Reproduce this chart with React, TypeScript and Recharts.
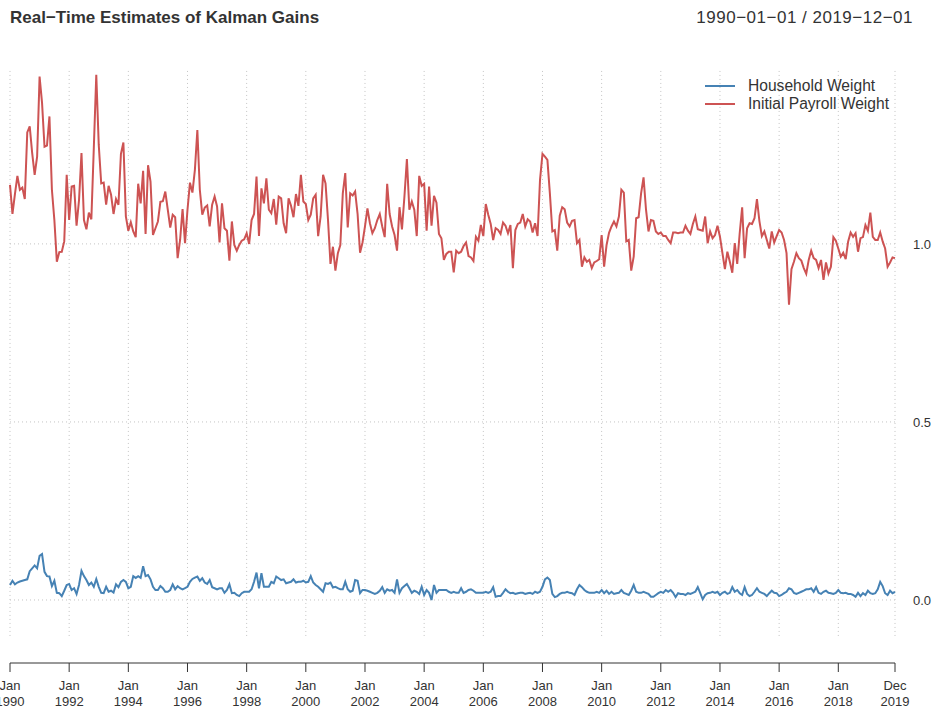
import { Line, LineChart, ReferenceLine, XAxis, YAxis } from "recharts";

// monthly Kalman gain estimates, Jan 1990 .. Dec 2019
const payroll1990s = [
  1.166, 1.084, 1.14, 1.191, 1.152, 1.158, 1.126, 1.313, 1.33, 1.255, 1.194, 1.245,
  1.47, 1.396, 1.273, 1.276, 1.358, 1.152, 1.067, 0.95, 0.977, 0.978, 1.007, 1.194,
  1.067, 1.161, 1.163, 1.051, 1.123, 1.255, 1.067, 1.041, 1.088, 1.069, 1.27, 1.475,
  1.278, 1.17, 1.172, 1.11, 1.163, 1.138, 1.084, 1.126, 1.11, 1.253, 1.285, 1.077,
  1.037, 1.061, 1.035, 1.019, 1.169, 1.114, 1.205, 1.028, 1.221, 1.175, 1.025, 1.044,
  1.063, 1.118, 1.12, 1.147, 1.096, 1.046, 1.082, 1.075, 0.96, 1.011, 1.098, 1.002,
  1.096, 1.172, 1.144, 1.208, 1.32, 1.152, 1.082, 1.102, 1.108, 1.049, 1.11, 1.133,
  1.105, 1.004, 1.114, 1.044, 1.037, 0.953, 1.063, 0.997, 0.981, 0.997, 1.009, 1.013,
  1.03, 1.0, 1.067, 1.084, 1.189, 1.022, 1.156, 1.114, 1.184, 1.096, 1.086, 1.126,
  1.054, 1.133, 1.128, 1.058, 1.03, 1.128, 1.107, 1.075, 1.14, 1.107, 1.194, 1.119,
];
const payroll2000s = [
  1.112, 1.067, 1.082, 1.128, 1.138, 1.022, 1.077, 1.194, 1.17, 1.067, 0.944, 0.992,
  0.925, 0.974, 0.997, 1.142, 1.199, 1.046, 1.142, 1.136, 1.147, 1.084, 0.975, 1.004,
  1.049, 1.1, 1.058, 1.03, 1.044, 1.067, 1.084, 1.049, 1.019, 1.169, 1.084, 1.049,
  1.025, 0.981, 1.103, 1.041, 1.133, 1.238, 1.096, 1.119, 1.096, 1.022, 1.191, 1.163,
  1.169, 1.037, 1.161, 1.051, 1.135, 1.116, 1.028, 1.016, 0.955, 0.972, 0.978, 0.978,
  0.92, 0.981, 0.974, 0.978, 0.994, 1.004, 0.966, 0.962, 0.952, 1.02, 1.009, 1.053,
  1.022, 1.112, 1.082, 1.056, 1.011, 1.044, 1.039, 1.028, 1.06, 1.051, 1.03, 1.053,
  0.932, 1.039, 1.056, 1.06, 1.084, 1.049, 1.069, 1.063, 1.032, 1.058, 1.022, 1.18,
  1.253, 1.245, 1.236, 1.142, 1.035, 1.039, 0.981, 1.079, 1.103, 1.097, 1.06, 1.049,
  1.065, 1.067, 1.002, 1.011, 0.936, 0.962, 0.95, 0.955, 0.932, 0.948, 0.952, 0.957,
];
const payroll2010s = [
  1.025, 0.936, 0.997, 1.031, 1.049, 1.063, 1.049, 1.077, 1.152, 1.144, 1.007, 1.011,
  0.925, 0.964, 1.072, 1.075, 1.142, 1.187, 1.096, 1.035, 1.067, 1.065, 1.035, 1.028,
  1.032, 1.022, 1.022, 1.011, 1.002, 1.032, 1.032, 1.03, 1.032, 1.032, 1.051, 1.037,
  1.028, 1.056, 1.077, 1.041, 1.039, 1.037, 1.077, 1.002, 1.035, 1.016, 1.025, 1.051,
  1.02, 0.974, 0.929, 0.978, 0.95, 0.919, 1.002, 0.944, 1.03, 1.103, 0.96, 1.044,
  1.058, 1.056, 1.072, 1.126, 1.064, 1.022, 1.035, 1.011, 0.987, 1.035, 1.004, 1.022,
  1.039, 1.032, 1.011, 0.974, 0.829, 0.929, 0.95, 0.974, 0.96, 0.953, 0.932, 0.916,
  0.955, 0.981, 0.96, 0.955, 0.932, 0.955, 0.899, 0.948, 0.917, 0.936, 1.019, 1.009,
  0.987, 0.964, 0.975, 0.957, 1.007, 1.032, 1.02, 1.03, 0.978, 1.016, 1.019, 1.053,
  1.037, 1.088, 1.02, 1.011, 1.011, 1.032, 1.007, 0.987, 0.936, 0.948, 0.962, 0.96,
];

const household1990s = [
  0.042, 0.054, 0.044, 0.049, 0.052, 0.054, 0.056, 0.058, 0.081, 0.089, 0.097, 0.089,
  0.124, 0.129, 0.079, 0.067, 0.066, 0.039, 0.054, 0.02, 0.019, 0.011, 0.026, 0.042,
  0.045, 0.028, 0.033, 0.017, 0.042, 0.082, 0.067, 0.056, 0.042, 0.049, 0.037, 0.059,
  0.037, 0.02, 0.019, 0.037, 0.023, 0.026, 0.021, 0.044, 0.036, 0.051, 0.056, 0.051,
  0.033, 0.037, 0.067, 0.062, 0.067, 0.062, 0.095, 0.067, 0.07, 0.058, 0.037, 0.028,
  0.028, 0.039, 0.033, 0.023, 0.023, 0.028, 0.044, 0.03, 0.039, 0.033, 0.03, 0.033,
  0.037, 0.051, 0.059, 0.063, 0.066, 0.054, 0.061, 0.049, 0.045, 0.056, 0.036, 0.033,
  0.03, 0.033, 0.033, 0.02, 0.028, 0.044, 0.019, 0.02, 0.014, 0.011, 0.019, 0.023,
  0.023, 0.023, 0.03, 0.051, 0.077, 0.033, 0.075, 0.037, 0.037, 0.037, 0.051, 0.047,
  0.066, 0.061, 0.056, 0.058, 0.047, 0.049, 0.051, 0.058, 0.049, 0.051, 0.051, 0.054,
];
const household2000s = [
  0.049, 0.051, 0.067, 0.049, 0.042, 0.037, 0.03, 0.023, 0.047, 0.045, 0.049, 0.035,
  0.037, 0.033, 0.03, 0.03, 0.051, 0.03, 0.023, 0.026, 0.056, 0.054, 0.019, 0.028,
  0.028, 0.026, 0.023, 0.02, 0.017, 0.02, 0.026, 0.036, 0.02, 0.03, 0.026, 0.028,
  0.02, 0.058, 0.02, 0.033, 0.039, 0.045, 0.033, 0.02, 0.026, 0.023, 0.017, 0.037,
  0.014, 0.028, 0.02, 0.0, 0.042, 0.02, 0.028, 0.028, 0.028, 0.028, 0.023, 0.02,
  0.023, 0.02, 0.02, 0.033, 0.02, 0.023, 0.028, 0.03, 0.026, 0.02, 0.02, 0.02,
  0.02, 0.023, 0.02, 0.023, 0.036, 0.009, 0.011, 0.011, 0.02, 0.03, 0.023, 0.019,
  0.02, 0.017, 0.019, 0.02, 0.02, 0.017, 0.019, 0.02, 0.017, 0.023, 0.02, 0.023,
  0.037, 0.058, 0.063, 0.056, 0.017, 0.008, 0.011, 0.017, 0.02, 0.02, 0.023, 0.02,
  0.019, 0.014, 0.03, 0.042, 0.036, 0.028, 0.023, 0.02, 0.02, 0.02, 0.023, 0.02,
];
const household2010s = [
  0.028, 0.019, 0.026, 0.017, 0.023, 0.017, 0.019, 0.02, 0.028, 0.02, 0.017, 0.014,
  0.026, 0.042, 0.023, 0.02, 0.02, 0.023, 0.02, 0.017, 0.009, 0.009, 0.014, 0.019,
  0.023, 0.02, 0.028, 0.023, 0.028, 0.02, 0.008, 0.019, 0.017, 0.017, 0.014, 0.019,
  0.017, 0.02, 0.023, 0.036, 0.019, 0.002, 0.014, 0.019, 0.02, 0.023, 0.02, 0.023,
  0.014, 0.02, 0.023, 0.017, 0.02, 0.036, 0.023, 0.028, 0.019, 0.014, 0.036, 0.017,
  0.011, 0.014, 0.023, 0.033, 0.023, 0.02, 0.017, 0.011, 0.019, 0.026, 0.02, 0.019,
  0.011, 0.014, 0.019, 0.023, 0.033, 0.03, 0.02, 0.017, 0.02, 0.023, 0.026, 0.03,
  0.03, 0.033, 0.023, 0.036, 0.02, 0.017, 0.023, 0.026, 0.02, 0.019, 0.017, 0.02,
  0.028, 0.02, 0.019, 0.02, 0.017, 0.017, 0.014, 0.009, 0.02, 0.011, 0.019, 0.014,
  0.026, 0.019, 0.017, 0.019, 0.03, 0.051, 0.039, 0.019, 0.014, 0.026, 0.019, 0.023,
];

const tickIndex = [0, 24, 48, 72, 96, 120, 144, 168, 192, 216, 240, 264, 288, 312, 336, 359];
const tickMonth = ["Jan", "Jan", "Jan", "Jan", "Jan", "Jan", "Jan", "Jan", "Jan", "Jan", "Jan", "Jan", "Jan", "Jan", "Jan", "Dec"];
const tickYear = ["1990", "1992", "1994", "1996", "1998", "2000", "2002", "2004", "2006", "2008", "2010", "2012", "2014", "2016", "2018", "2019"];
const yTicks = [0, 0.5, 1.0];

const payroll = [...payroll1990s, ...payroll2000s, ...payroll2010s];
const household = [...household1990s, ...household2000s, ...household2010s];
const data = payroll.map((p, i) => ({ idx: i, household: household[i], payroll: p }));

const series = [
  { key: "household", name: "Household Weight", color: "#4682b4" },
  { key: "payroll", name: "Initial Payroll Weight", color: "#cd5353" },
];

const FONT = '"Liberation Sans", Arial, Helvetica, sans-serif';
const TEXT = "#333333";
const GRID = "#c4c4c4";
const Y_MIN = -0.177;
const Y_MAX = 1.494;
const GRID_BOTTOM = -0.101;

function DateTick({ x, y, payload }: any) {
  const k = tickIndex.indexOf(payload.value);
  return (
    <g fontFamily={FONT} fontSize={13} fill={TEXT}>
      <text x={x} y={y + 18} textAnchor="middle">{tickMonth[k]}</text>
      <text x={x} y={y + 34} textAnchor="middle">{tickYear[k]}</text>
    </g>
  );
}

export default function App() {
  return (
    <div style={{ position: "absolute", left: 0, top: 0, width: 940, height: 713, background: "#fff", fontFamily: FONT }}>
      <div style={{ position: "absolute", left: 10, top: 8, fontSize: 17, fontWeight: "bold", color: TEXT }}>
        Real−Time Estimates of Kalman Gains
      </div>
      <div style={{ position: "absolute", right: 27, top: 8, fontSize: 17, letterSpacing: 0.5, color: TEXT }}>
        1990−01−01 / 2019−12−01
      </div>

      <LineChart width={940} height={713} data={data} margin={{ top: 68, right: 5, bottom: 0, left: 10 }}>
        {tickIndex.map((t) => (
          <ReferenceLine
            key={"v" + t}
            segment={[{ x: t, y: GRID_BOTTOM }, { x: t, y: Y_MAX }]}
            stroke={GRID}
            strokeDasharray="1 3"
          />
        ))}
        {yTicks.map((t) => (
          <ReferenceLine key={"h" + t} y={t} stroke={GRID} strokeDasharray="1 3" />
        ))}
        <XAxis
          dataKey="idx"
          type="number"
          domain={[0, 359]}
          ticks={tickIndex}
          interval={0}
          height={50}
          tickSize={9}
          tickMargin={0}
          stroke={TEXT}
          tick={<DateTick />}
        />
        <YAxis
          orientation="right"
          domain={[Y_MIN, Y_MAX]}
          allowDataOverflow
          ticks={yTicks}
          width={40}
          axisLine={false}
          tickLine={false}
          tickSize={0}
          tickMargin={18}
          tickFormatter={(v: number) => v.toFixed(1)}
          tick={{ fill: TEXT, fontSize: 13, fontFamily: FONT }}
        />
        {series.map((s) => (
          <Line
            key={s.key}
            type="linear"
            dataKey={s.key}
            name={s.name}
            stroke={s.color}
            strokeWidth={2}
            dot={false}
            isAnimationActive={false}
          />
        ))}
      </LineChart>

      <div style={{ position: "absolute", left: 705, top: 77, fontSize: 15.6, color: TEXT, lineHeight: "18px" }}>
        {series.map((s) => (
          <div key={s.key} style={{ display: "flex", alignItems: "center" }}>
            <span style={{ display: "inline-block", width: 30, height: 2, background: s.color, marginRight: 13 }} />
            {s.name}
          </div>
        ))}
      </div>
    </div>
  );
}
